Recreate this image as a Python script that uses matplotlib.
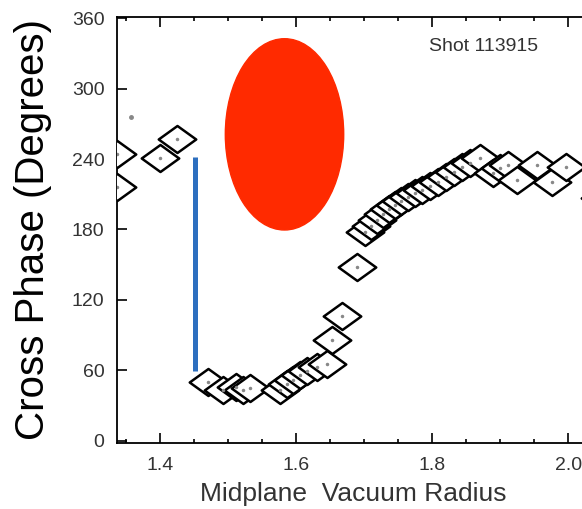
import matplotlib.pyplot as plt
from matplotlib.patches import Ellipse
from matplotlib.path import Path

plt.rcParams['font.family'] = ['Liberation Sans', 'DejaVu Sans']

# radius and cross phase
radius = [1.337, 1.337, 1.400, 1.425,
          1.471, 1.493, 1.512, 1.522, 1.532, 1.576, 1.587, 1.596, 1.606, 1.616,
          1.631, 1.646, 1.653, 1.668, 1.690,
          1.701, 1.710, 1.719, 1.728, 1.737, 1.746, 1.754, 1.765, 1.775, 1.785,
          1.797, 1.809, 1.821, 1.832, 1.844, 1.856, 1.871, 1.890, 1.900, 1.912,
          1.925, 1.954, 1.976, 1.997, 2.046]
phase = [244, 216, 241, 257,
         50, 43, 46, 43, 45, 43, 48, 52, 56, 59,
         63, 65, 86, 106, 148,
         178, 183, 188, 193, 197, 201, 204, 208, 211, 214,
         217, 220, 225, 229, 233, 237, 241, 228, 232, 235,
         222, 235, 220, 233, 207]

# a stray centre dot
dot_r, dot_p = [1.357], [276]

# blue bar and red blob
bar_r = 1.451
bar_lo, bar_hi = 59, 242
blob_r, blob_p = 1.583, 261
blob_w, blob_h = 0.174, 163

fig = plt.figure(figsize=(5.82, 5.09), dpi=100)
ax = fig.add_axes([117 / 582, 66 / 509, (590 - 117) / 582, 426 / 509])

diamond = Path([(-1, 0), (0, 0.72), (1, 0), (0, -0.72), (-1, 0)],
               [Path.MOVETO, Path.LINETO, Path.LINETO, Path.LINETO, Path.CLOSEPOLY])

ax.add_patch(Ellipse((blob_r, blob_p), blob_w, blob_h, color='#ff2a00', zorder=1))
ax.plot([bar_r, bar_r], [bar_lo, bar_hi], color='#2d6fbf', lw=3.6,
        solid_capstyle='butt', zorder=2)
ax.plot(radius, phase, ls='none', marker=diamond, ms=27, mfc='white',
        mec='black', mew=1.8, zorder=3)
ax.plot(radius, phase, ls='none', marker='o', ms=1.5, color='#888888', zorder=4)
ax.plot(dot_r, dot_p, ls='none', marker='o', ms=2.5, color='#888888', zorder=4)

ax.set_xlim(1.3368, 2.032)
ax.set_ylim(-2, 361)
ax.set_xticks([1.4, 1.6, 1.8, 2.0])
ax.set_xticklabels(['1.4', '1.6', '1.8', '2.0'])
ax.set_xticks([1.35, 1.45, 1.5, 1.55, 1.65, 1.7, 1.75, 1.85, 1.9, 1.95], minor=True)
ax.set_yticks([0, 60, 120, 180, 240, 300, 360])

ax.tick_params(which='both', direction='in', top=True, right=False,
               labelsize=14, labelcolor='#333333', width=1.2)
ax.tick_params(which='major', length=7)
ax.tick_params(which='minor', length=3)
ax.tick_params(axis='y', pad=9)
ax.tick_params(axis='x', pad=10)
for s in ax.spines.values():
    s.set_linewidth(1.3)
ax.spines['right'].set_visible(False)

ax.set_xlabel('Midplane  Vacuum Radius', fontsize=19, color='#333333', labelpad=6)
ax.set_ylabel('Cross Phase (Degrees)', fontsize=29, labelpad=14)
ax.text(1.876, 336, 'Shot 113915', fontsize=14, color='#333333', ha='center', va='center')

fig.savefig('out.png', dpi=100)
